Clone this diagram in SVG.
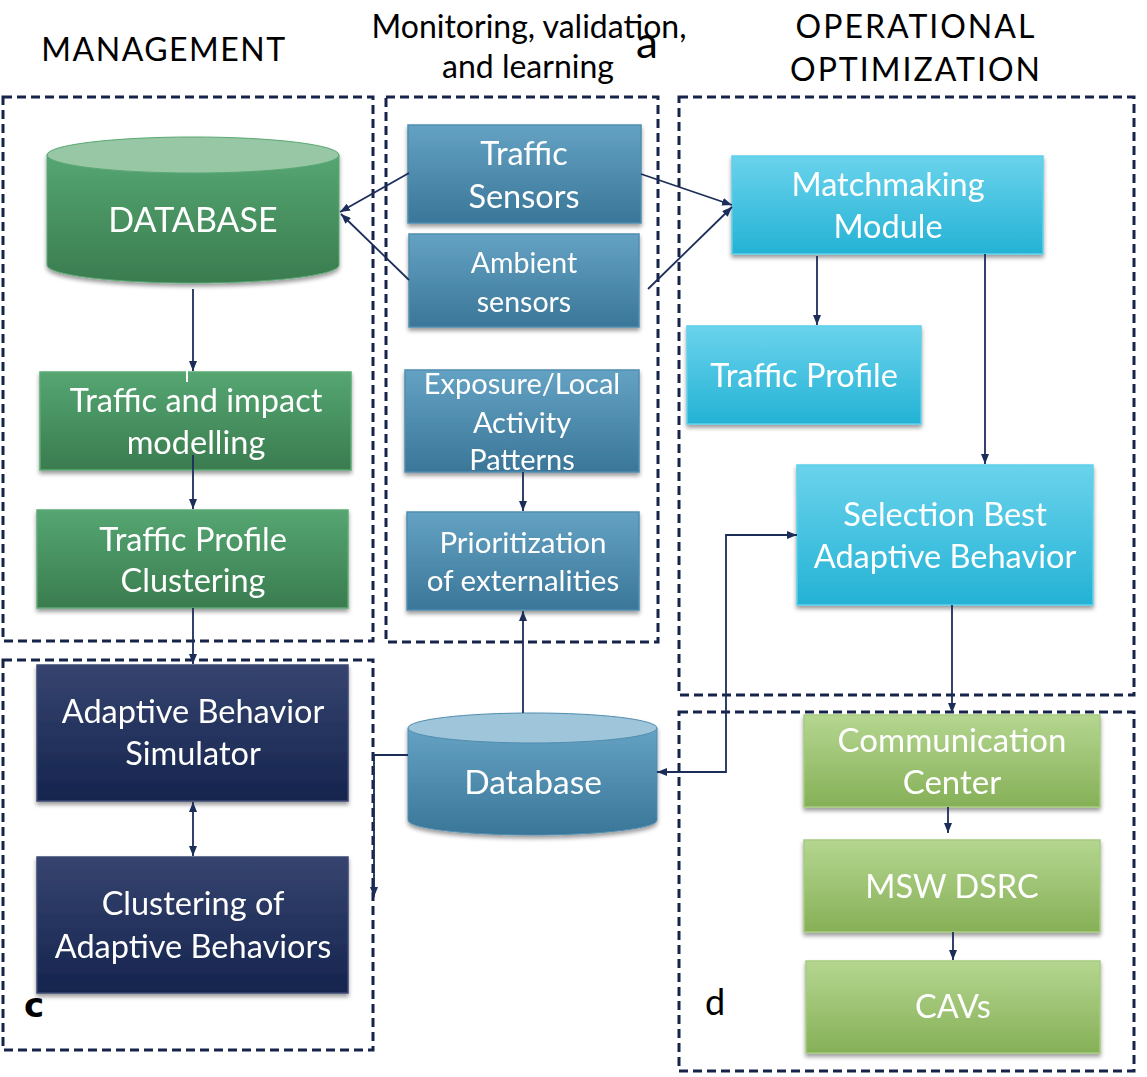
<svg xmlns="http://www.w3.org/2000/svg" width="1147" height="1077" viewBox="0 0 1147 1077">
<style>
.t{font-family:Lato,"Liberation Sans",sans-serif;fill:#fff;text-anchor:middle}
.h{font-family:Lato,"Liberation Sans",sans-serif;fill:#000;text-anchor:middle}
.dash{fill:none;stroke:#16244a;stroke-width:3;stroke-dasharray:9 5}
.c{fill:none;stroke:#1c2d5a;stroke-width:1.8}
.box{filter:url(#sh)}
</style>
<defs>
<linearGradient id="gGreen" x1="0" y1="0" x2="0" y2="1"><stop offset="0" stop-color="#55a672"/><stop offset="1" stop-color="#3a7c4f"/></linearGradient>
<linearGradient id="gBlue" x1="0" y1="0" x2="0" y2="1"><stop offset="0" stop-color="#64a2c4"/><stop offset="1" stop-color="#3a7698"/></linearGradient>
<linearGradient id="gCyan" x1="0" y1="0" x2="0" y2="1"><stop offset="0" stop-color="#6ad3ec"/><stop offset="1" stop-color="#24b2d5"/></linearGradient>
<linearGradient id="gNavy" x1="0" y1="0" x2="0" y2="1"><stop offset="0" stop-color="#36446f"/><stop offset="1" stop-color="#15244e"/></linearGradient>
<linearGradient id="gLime" x1="0" y1="0" x2="0" y2="1"><stop offset="0" stop-color="#b4d690"/><stop offset="1" stop-color="#86b057"/></linearGradient>
<filter id="sh" x="-5%" y="-5%" width="110%" height="120%"><feDropShadow dx="0" dy="3" stdDeviation="2" flood-color="#000" flood-opacity="0.4"/></filter>
<marker id="ah" viewBox="0 0 10 8" refX="10" refY="4" markerWidth="10" markerHeight="8" markerUnits="userSpaceOnUse" orient="auto-start-reverse"><path d="M0,0 L10,4 L0,8 z" fill="#1c2d5a"/></marker>
</defs>

<g id="titles">
<text class="h" x="164" y="61" font-size="32" letter-spacing="1.5">MANAGEMENT</text>
<text class="h" x="529" y="38" font-size="32">Monitoring, validation,</text>
<text class="h" x="528" y="78" font-size="32">and learning</text>
<text class="h" x="647" y="58" font-size="44">a</text>
<text class="h" x="916" y="38" font-size="32" letter-spacing="2">OPERATIONAL</text>
<text class="h" x="916" y="81" font-size="32" letter-spacing="2">OPTIMIZATION</text>
<text x="24" y="1017" font-size="34" font-weight="bold" font-family="'DejaVu Sans',sans-serif" fill="#000">c</text>
<text x="705" y="1015" font-size="36" font-family="Lato,'Liberation Sans',sans-serif" fill="#000">d</text>
</g>

<g id="groups">
<rect class="dash" x="3" y="97" width="370" height="544"/>
<rect class="dash" x="386" y="97" width="272" height="545"/>
<rect class="dash" x="679" y="97" width="455" height="598"/>
<rect class="dash" x="3" y="660" width="370" height="390"/>
<rect class="dash" x="679" y="712" width="455" height="359"/>
</g>

<g id="n-database" class="box">
<path d="M47,155 L47,265 A146,18 0 0 0 339,265 L339,155 Z" fill="url(#gGreen)" stroke="#5aa874" stroke-width="1"/>
<ellipse cx="193" cy="155" rx="146" ry="18" fill="#97c7a4" stroke="#5aa874" stroke-width="1"/>
<text class="t" x="193" y="232" font-size="34">DATABASE</text>
</g>

<g id="n-modelling" class="box">
<rect x="40" y="372" width="311" height="98" fill="url(#gGreen)" stroke="#5caa76" stroke-width="1.5"/>
<line x1="187" y1="370" x2="187" y2="382" stroke="#fff" stroke-width="2"/>
<text class="t" x="196" y="412" font-size="32.5">Traffic and impact</text>
<text class="t" x="196" y="454" font-size="32.5">modelling</text>
</g>

<g id="n-tpclustering" class="box">
<rect x="37" y="510" width="311" height="98" fill="url(#gGreen)" stroke="#5caa76" stroke-width="1.5"/>
<text class="t" x="193" y="551" font-size="32.5">Traffic Profile</text>
<text class="t" x="193" y="592" font-size="32.5">Clustering</text>
</g>

<g id="n-trafficsensors" class="box">
<rect x="408" y="125" width="233" height="98" fill="url(#gBlue)" stroke="#4f8db0" stroke-width="1.5"/>
<text class="t" x="524" y="165" font-size="32.5">Traffic</text>
<text class="t" x="524" y="208" font-size="32.5">Sensors</text>
</g>

<g id="n-ambient" class="box">
<rect x="409" y="234" width="230" height="93" fill="url(#gBlue)" stroke="#4f8db0" stroke-width="1.5"/>
<text class="t" x="524" y="273" font-size="28.5">Ambient</text>
<text class="t" x="524" y="312" font-size="28.5">sensors</text>
</g>

<g id="n-exposure" class="box">
<rect x="405" y="370" width="234" height="102" fill="url(#gBlue)" stroke="#4f8db0" stroke-width="1.5"/>
<text class="t" x="522" y="394" font-size="29">Exposure/Local</text>
<text class="t" x="522" y="433" font-size="29">Activity</text>
<text class="t" x="522" y="470" font-size="29">Patterns</text>
</g>

<g id="n-prioritization" class="box">
<rect x="407" y="512" width="232" height="98" fill="url(#gBlue)" stroke="#4f8db0" stroke-width="1.5"/>
<text class="t" x="523" y="553" font-size="29.5">Prioritization</text>
<text class="t" x="523" y="591" font-size="29.5">of externalities</text>
</g>

<g id="n-db2" class="box">
<path d="M408,728 L408,820 A124.5,15 0 0 0 657,820 L657,728 Z" fill="url(#gBlue)" stroke="#4f8db0" stroke-width="1"/>
<ellipse cx="532.5" cy="728" rx="124.5" ry="15" fill="#9fc5da" stroke="#4f8db0" stroke-width="1"/>
<text class="t" x="533" y="794" font-size="33.5">Database</text>
</g>

<g id="n-matchmaking" class="box">
<rect x="732" y="156" width="311" height="98" fill="url(#gCyan)" stroke="#5fd0ea" stroke-width="1.5"/>
<text class="t" x="888" y="196" font-size="32.5">Matchmaking</text>
<text class="t" x="888" y="238" font-size="32.5">Module</text>
</g>

<g id="n-trafficprofile" class="box">
<rect x="687" y="326" width="234" height="98" fill="url(#gCyan)" stroke="#5fd0ea" stroke-width="1.5"/>
<text class="t" x="804" y="387" font-size="32.5">Traffic Profile</text>
</g>

<g id="n-selection" class="box">
<rect x="797" y="465" width="296" height="140" fill="url(#gCyan)" stroke="#5fd0ea" stroke-width="1.5"/>
<text class="t" x="945" y="526" font-size="32.5">Selection Best</text>
<text class="t" x="945" y="568" font-size="32.5">Adaptive Behavior</text>
</g>

<g id="n-simulator" class="box">
<rect x="37" y="665" width="311" height="136" fill="url(#gNavy)" stroke="#3a4874" stroke-width="1.5"/>
<text class="t" x="193" y="723" font-size="32.5">Adaptive Behavior</text>
<text class="t" x="193" y="765" font-size="32.5">Simulator</text>
</g>

<g id="n-clustering" class="box">
<rect x="37" y="857" width="311" height="136" fill="url(#gNavy)" stroke="#3a4874" stroke-width="1.5"/>
<text class="t" x="193" y="915" font-size="32.5">Clustering of</text>
<text class="t" x="193" y="958" font-size="32.5">Adaptive Behaviors</text>
</g>

<g id="n-communication" class="box">
<rect x="804" y="715" width="296" height="92" fill="url(#gLime)" stroke="#a6cc7e" stroke-width="1.5"/>
<text class="t" x="952" y="752" font-size="33">Communication</text>
<text class="t" x="952" y="794" font-size="33">Center</text>
</g>

<g id="n-msw" class="box">
<rect x="804" y="840" width="296" height="92" fill="url(#gLime)" stroke="#a6cc7e" stroke-width="1.5"/>
<text class="t" x="952" y="898" font-size="32.5">MSW DSRC</text>
</g>

<g id="n-cavs" class="box">
<rect x="806" y="961" width="294" height="92" fill="url(#gLime)" stroke="#a6cc7e" stroke-width="1.5"/>
<text class="t" x="953" y="1018" font-size="32.5">CAVs</text>
</g>

<g id="connectors">
<line class="c" x1="193" y1="289" x2="193" y2="371" marker-end="url(#ah)"/>
<line class="c" x1="193" y1="455" x2="193" y2="509" marker-end="url(#ah)"/>
<line class="c" x1="193" y1="608" x2="193" y2="664" marker-end="url(#ah)"/>
<line class="c" x1="409" y1="173" x2="340" y2="212" marker-end="url(#ah)"/>
<line class="c" x1="409" y1="280" x2="341" y2="214" marker-end="url(#ah)"/>
<line class="c" x1="641" y1="174" x2="732" y2="205" marker-end="url(#ah)"/>
<line class="c" x1="648" y1="289" x2="732" y2="207" marker-end="url(#ah)"/>
<line class="c" x1="523" y1="472" x2="523" y2="511" marker-end="url(#ah)"/>
<line class="c" x1="523" y1="713" x2="523" y2="611" marker-end="url(#ah)"/>
<line class="c" x1="817" y1="256" x2="817" y2="325" marker-end="url(#ah)"/>
<line class="c" x1="985" y1="254" x2="985" y2="464" marker-end="url(#ah)"/>
<line class="c" x1="952" y1="605" x2="952" y2="713" marker-end="url(#ah)"/>
<polyline class="c" points="657,772 726,772 726,535 797,535" marker-start="url(#ah)" marker-end="url(#ah)"/>
<polyline class="c" points="408,755 374,755 374,897" marker-end="url(#ah)"/>
<line class="c" x1="193" y1="802" x2="193" y2="856" marker-start="url(#ah)" marker-end="url(#ah)"/>
<line class="c" x1="948" y1="807" x2="948" y2="833" marker-end="url(#ah)"/>
<line class="c" x1="953" y1="932" x2="953" y2="960" marker-end="url(#ah)"/>
</g>
</svg>
